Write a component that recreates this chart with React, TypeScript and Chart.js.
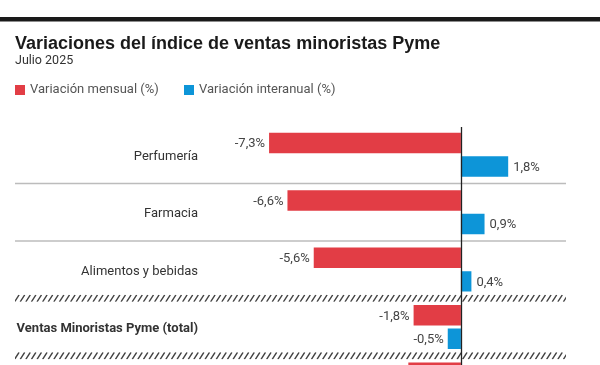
import React, { useEffect, useRef } from "react";
import { Chart, registerables } from "chart.js";

Chart.register(...registerables);

const TITLE = "Variaciones del índice de ventas minoristas Pyme";
const SUBTITLE = "Julio 2025";
const categories = [
  "Perfumería",
  "Farmacia",
  "Alimentos y bebidas",
  "Ventas Minoristas Pyme (total)",
  "",
];
const seriesNames = ["Variación mensual (%)", "Variación interanual (%)"];
const mensual = [-7.3, -6.6, -5.6, -1.8, -2.0];
const interanual: (number | null)[] = [1.8, 0.9, 0.4, -0.5, null];
const separators = ["solid", "solid", "hatch", "hatch"];
const boldCategories = [3];

const RED = "#e23d45";
const BLUE = "#0d95d8";
const FONT = "Roboto, 'Liberation Sans', sans-serif";
const TITLE_FONT = "'Liberation Sans', Arial, sans-serif";

const fmt = (v: number) => v.toFixed(1).replace(".", ",") + "%";

export default function App() {
  const ref = useRef<HTMLCanvasElement | null>(null);

  useEffect(() => {
    if (!ref.current) return;

    const decor = {
      id: "decor",
      beforeDatasetsDraw(chart: any) {
        const { ctx } = chart;
        const y = chart.scales.y;
        ctx.save();
        separators.forEach((type, i) => {
          const yb = (y.getPixelForValue(i) + y.getPixelForValue(i + 1)) / 2;
          const x0 = 15;
          const x1 = 566;
          if (type === "solid") {
            ctx.strokeStyle = "#bcbcbc";
            ctx.lineWidth = 1.5;
            ctx.beginPath();
            ctx.moveTo(x0, yb);
            ctx.lineTo(x1, yb);
            ctx.stroke();
          } else {
            const top = yb - 3.5;
            const bot = yb + 3.5;
            ctx.save();
            ctx.beginPath();
            ctx.rect(x0, top, x1 - x0, bot - top);
            ctx.clip();
            ctx.strokeStyle = "#444";
            ctx.lineWidth = 1.4;
            ctx.beginPath();
            for (let x = x0 - 6; x < x1 + 6; x += 5.6) {
              ctx.moveTo(x, bot);
              ctx.lineTo(x + 4.5, top);
            }
            ctx.stroke();
            ctx.restore();
          }
        });
        ctx.restore();
      },
      afterDatasetsDraw(chart: any) {
        const { ctx, chartArea } = chart;
        const xs = chart.scales.x;
        const zx = Math.round(xs.getPixelForValue(0)) + 0.5;
        ctx.save();
        ctx.strokeStyle = "#222";
        ctx.lineWidth = 1.3;
        ctx.beginPath();
        ctx.moveTo(zx, chartArea.top + 1);
        ctx.lineTo(zx, chartArea.bottom);
        ctx.stroke();

        ctx.font = `13px ${FONT}`;
        ctx.fillStyle = "#444";
        ctx.textBaseline = "middle";
        chart.data.datasets.forEach((ds: any, di: number) => {
          const meta = chart.getDatasetMeta(di);
          meta.data.forEach((bar: any, i: number) => {
            const v = ds.data[i];
            if (v === null || v === undefined) return;
            if (v < 0) {
              ctx.textAlign = "right";
              ctx.fillText(fmt(v), bar.x - 4, bar.y + 1);
            } else {
              ctx.textAlign = "left";
              ctx.fillText(fmt(v), bar.x + 5, bar.y + 1);
            }
          });
        });
        ctx.restore();
      },
      afterDraw(chart: any) {
        const { ctx } = chart;
        ctx.save();
        ctx.fillStyle = "#1a1a1a";
        ctx.fillRect(0, 17, chart.width, 4.5);

        ctx.fillStyle = "#1a1a1a";
        ctx.textAlign = "left";
        ctx.textBaseline = "alphabetic";
        ctx.font = `bold 18px ${TITLE_FONT}`;
        ctx.fillText(TITLE, 15, 49);
        ctx.font = `12.5px ${FONT}`;
        ctx.fillStyle = "#333";
        ctx.fillText(SUBTITLE, 15, 64);

        const legendX = [15, 184];
        const colors = [RED, BLUE];
        ctx.font = `13px ${FONT}`;
        seriesNames.forEach((name, i) => {
          ctx.fillStyle = colors[i];
          ctx.fillRect(legendX[i], 85, 10, 10);
          ctx.fillStyle = "#555";
          ctx.textBaseline = "middle";
          ctx.fillText(name, legendX[i] + 15, 90);
        });
        ctx.restore();
      },
    };

    const chart = new Chart(ref.current, {
      type: "bar",
      data: {
        labels: categories,
        datasets: [
          {
            label: seriesNames[0],
            data: mensual,
            backgroundColor: RED,
            categoryPercentage: 0.82,
            barPercentage: 0.87,
          },
          {
            label: seriesNames[1],
            data: interanual,
            backgroundColor: BLUE,
            categoryPercentage: 0.82,
            barPercentage: 0.87,
          },
        ],
      },
      options: {
        indexAxis: "y",
        animation: false,
        responsive: false,
        maintainAspectRatio: false,
        layout: { padding: { top: 126, right: 34, bottom: 0, left: 0 } },
        plugins: {
          legend: { display: false },
          title: { display: false },
          tooltip: { enabled: false },
        },
        scales: {
          x: {
            display: false,
            min: -9.7,
            max: 4.0,
          },
          y: {
            afterFit: (scale: any) => {
              scale.width = 206;
            },
            grid: { display: false, drawTicks: false },
            border: { display: false },
            ticks: {
              padding: 8,
              labelOffset: 2,
              color: "#333",
              font: (c: any) => ({
                family: FONT,
                size: 13,
                weight: boldCategories.includes(c.index) ? "bold" : "normal",
              }),
            },
          },
        },
      },
      plugins: [decor],
    } as any);

    return () => chart.destroy();
  }, []);

  return (
    <div
      style={{
        position: "absolute",
        left: 0,
        top: 0,
        width: 600,
        height: 365,
        overflow: "hidden",
        background: "#fff",
      }}
    >
      <canvas ref={ref} width={600} height={429} style={{ display: "block" }} />
    </div>
  );
}
